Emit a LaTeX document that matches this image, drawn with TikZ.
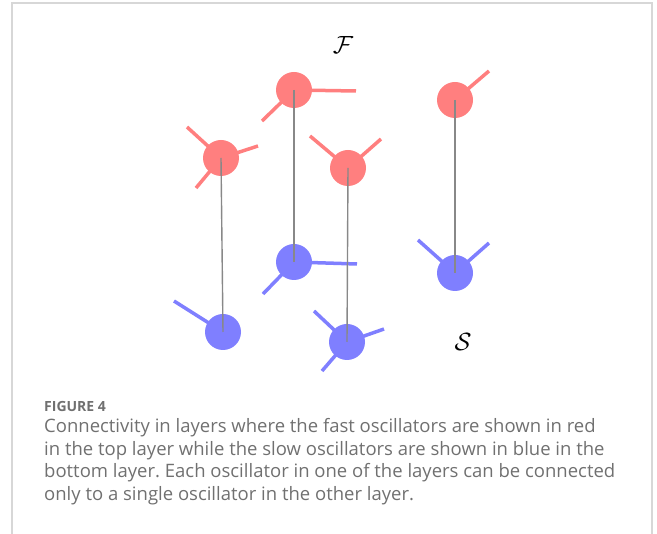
\documentclass[tikz,border=0pt]{standalone}
\usepackage{fontspec}
\setsansfont{Open Sans}
\frenchspacing
\begin{document}
\begin{tikzpicture}[x=1pt,y=-1pt,
  osc/.style={circle,inner sep=0pt,minimum size=36pt},
  fastosc/.style={osc,fill=fastred},
  slowosc/.style={osc,fill=slowblue},
  fastarm/.style={draw=fastred,line width=3.5pt},
  slowarm/.style={draw=slowblue,line width=3.5pt},
  link/.style={draw=linkgray,line width=1.4pt},
  frameline/.style={draw=framegray,line width=1.2pt},
  captitle/.style={anchor=base west,inner sep=0pt,text=captext,font=\sffamily\bfseries\fontsize{14}{16}\selectfont},
  capline/.style={anchor=base west,inner sep=0pt,text=captext,font=\sffamily\fontsize{18.5}{22}\selectfont},
  layerlabel/.style={inner sep=0pt,font=\fontsize{27}{30}\selectfont}]
\definecolor{fastred}{RGB}{255,127,127}
\definecolor{slowblue}{RGB}{127,127,255}
\definecolor{linkgray}{RGB}{136,136,136}
\definecolor{framegray}{RGB}{215,215,215}
\definecolor{captext}{RGB}{112,112,112}

\useasboundingbox (0,0) rectangle (657,534);

% open frame around the figure
\coordinate (fbl) at (12,534);
\coordinate (ftl) at (12,3);
\coordinate (ftr) at (652,3);
\coordinate (fbr) at (652,534);
\draw[frameline] (fbl) -- (ftl) -- (ftr) -- (fbr);

% oscillator positions (top layer: fast, bottom layer: slow)
\coordinate (pr1) at (221,158);
\coordinate (pr2) at (294,90);
\coordinate (pr3) at (348,168);
\coordinate (pr4) at (455,100);
\coordinate (pb1) at (223,332);
\coordinate (pb2) at (294,262);
\coordinate (pb3) at (347,342);
\coordinate (pb4) at (455,273);

% arms of the fast oscillators
\draw[fastarm] (pr1) -- ++(-34,-31);
\draw[fastarm] (pr1) -- ++(-25,30);
\draw[fastarm] (pr1) -- ++(37,-12);
\draw[fastarm] (pr2) -- ++(62,1);
\draw[fastarm] (pr2) -- ++(-32,31);
\draw[fastarm] (pr3) -- ++(-38,-32);
\draw[fastarm] (pr3) -- ++(33,-29);
\draw[fastarm] (pr4) -- ++(34,-29);

% arms of the slow oscillators
\draw[slowarm] (pb1) -- ++(-49,-31);
\draw[slowarm] (pb2) -- ++(63,2);
\draw[slowarm] (pb2) -- ++(-31,32);
\draw[slowarm] (pb3) -- ++(-33,-31);
\draw[slowarm] (pb3) -- ++(37,-13);
\draw[slowarm] (pb3) -- ++(-25,29);
\draw[slowarm] (pb4) -- ++(-37,-33);
\draw[slowarm] (pb4) -- ++(34,-30);

% oscillator bodies
\node[fastosc] (r1) at (pr1) {};
\node[fastosc] (r2) at (pr2) {};
\node[fastosc] (r3) at (pr3) {};
\node[fastosc] (r4) at (pr4) {};
\node[slowosc] (b1) at (pb1) {};
\node[slowosc] (b2) at (pb2) {};
\node[slowosc] (b3) at (pb3) {};
\node[slowosc] (b4) at (pb4) {};

% one-to-one links between the layers
\draw[link] (r1.center) -- (b1.center);
\draw[link] (r2.center) -- (b2.center);
\draw[link] (r3.center) -- (b3.center);
\draw[link] (r4.center) -- (b4.center);

% layer labels
\node[layerlabel] (fastlabel) at (343,45) {$\mathcal{F}$};
\node[layerlabel] (slowlabel) at (463,342) {$\mathcal{S}$};

% caption
\node[captitle] (figtitle) at (44,412) {FIGURE 4};
\node[capline] (cap1) at (44,433) {Connectivity in layers where the fast oscillators are shown in red};
\node[capline] (cap2) at (44,455.5) {in the top layer while the slow oscillators are shown in blue in the};
\node[capline] (cap3) at (44,478) {bottom layer. Each oscillator in one of the layers can be connected};
\node[capline] (cap4) at (44,500.5) {only to a single oscillator in the other layer.};
\end{tikzpicture}
\end{document}
